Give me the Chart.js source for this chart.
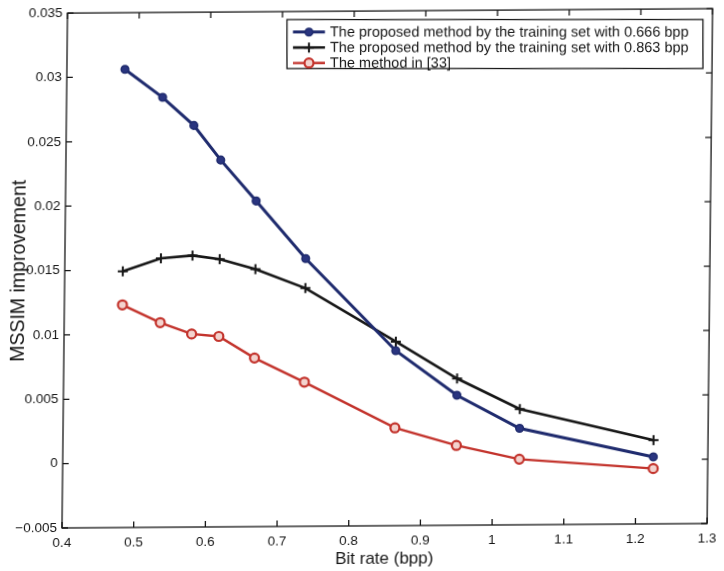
<!DOCTYPE html>
<html>
<head>
<meta charset="utf-8">
<script src="https://cdn.jsdelivr.net/npm/chart.js@4.4.1/dist/chart.umd.min.js"></script>
<style>
  html, body { margin: 0; padding: 0; background: #fff; overflow: hidden; }
  #wrap { width: 724px; height: 571px; position: relative; }
  /* the printed figure sits slightly skewed on the page */
  #chart { transform-origin: 62px 528px; transform: matrix(1, -0.0069, -0.0107, 1, 0, 0); }
</style>
</head>
<body>
<div id="wrap"><canvas id="chart"></canvas></div>
<script>
// Bit rates (bpp) shared by all three curves
const bitRates = [0.481, 0.534, 0.578, 0.616, 0.666, 0.736, 0.863, 0.949, 1.037, 1.224];

// MSSIM improvement per method
const trained0666 = [0.0306, 0.0284, 0.0262, 0.0235, 0.0203, 0.0158, 0.0086, 0.0051, 0.0025, 0.0002];
const trained0863 = [0.0149, 0.0159, 0.0161, 0.0158, 0.0150, 0.0135, 0.0093, 0.0064, 0.0040, 0.0015];
const method33    = [0.0123, 0.0109, 0.0100, 0.0098, 0.0081, 0.0062, 0.0026, 0.0012, 0.0001, -0.0007];

const seriesLabels = [
  'The proposed method by the training set with 0.666 bpp',
  'The proposed method by the training set with 0.863 bpp',
  'The method in [33]'
];

const xTicks = [0.4, 0.5, 0.6, 0.7, 0.8, 0.9, 1.0, 1.1, 1.2, 1.3];
const yTicks = [-0.005, 0, 0.005, 0.01, 0.015, 0.02, 0.025, 0.03, 0.035];

const FONT = '"Liberation Sans", Arial, Helvetica, sans-serif';
const INK = '#161616';

function pts(ys) { return ys.map((y, i) => ({ x: bitRates[i], y: y })); }

function fmt(v) {
  const s = String(Number(v.toFixed(4)));
  return s.replace('-', '\u2212');
}

// box round the axes with inward ticks on all four sides
const framePlugin = {
  id: 'frame',
  afterDatasetsDraw(chart) {
    const { ctx, chartArea: a, scales } = chart;
    ctx.save();
    ctx.strokeStyle = INK;
    ctx.lineWidth = 1.3;
    ctx.strokeRect(a.left, a.top, a.right - a.left, a.bottom - a.top);
    const tl = 6;
    ctx.beginPath();
    xTicks.forEach(v => {
      const x = scales.x.getPixelForValue(v);
      ctx.moveTo(x, a.bottom); ctx.lineTo(x, a.bottom - tl);
      ctx.moveTo(x, a.top); ctx.lineTo(x, a.top + tl);
    });
    yTicks.forEach(v => {
      const y = scales.y.getPixelForValue(v);
      ctx.moveTo(a.left, y); ctx.lineTo(a.left + tl, y);
      ctx.moveTo(a.right, y); ctx.lineTo(a.right - tl, y);
    });
    ctx.stroke();
    ctx.restore();
  }
};

// legend box in the upper right corner; drawn square to the page, not to the axes
const legendPlugin = {
  id: 'boxLegend',
  afterDraw(chart) {
    const { ctx } = chart;
    const bx = 287, by = 19.5, bw = 416, bh = 49;
    ctx.save();
    ctx.translate(62, 528);
    ctx.transform(1, 0.0069, 0.0107, 1, 0, 0);
    ctx.translate(-62, -528);
    ctx.fillStyle = '#fff';
    ctx.fillRect(bx, by, bw, bh);
    ctx.strokeStyle = INK;
    ctx.lineWidth = 1.3;
    ctx.strokeRect(bx, by, bw, bh);
    ctx.font = '14.5px ' + FONT;
    ctx.textBaseline = 'middle';
    chart.data.datasets.forEach((ds, i) => {
      const y = by + 12.5 + i * 15.5;
      const mx = bx + 22;
      ctx.strokeStyle = ds.borderColor;
      ctx.lineWidth = ds.borderWidth;
      ctx.beginPath();
      ctx.moveTo(bx + 6, y); ctx.lineTo(bx + 38, y);
      ctx.stroke();
      ctx.fillStyle = ds.pointBackgroundColor;
      ctx.strokeStyle = ds.pointBorderColor;
      ctx.lineWidth = ds.pointBorderWidth;
      ctx.beginPath();
      const r = ds.pointRadius;
      if (ds.pointStyle === 'circle') {
        ctx.arc(mx, y, r, 0, Math.PI * 2);
        ctx.fill(); ctx.stroke();
      } else {
        ctx.moveTo(mx - r, y); ctx.lineTo(mx + r, y);
        ctx.moveTo(mx, y - r); ctx.lineTo(mx, y + r);
        ctx.stroke();
      }
      ctx.fillStyle = INK;
      ctx.fillText(seriesLabels[i], bx + 43, y + 0.5);
    });
    ctx.restore();
  }
};

const ctx = document.getElementById('chart').getContext('2d');
new Chart(ctx, {
  type: 'line',
  data: {
    datasets: [
      {
        label: seriesLabels[0],
        data: pts(trained0666),
        borderColor: '#1f2b6e',
        borderWidth: 3,
        pointStyle: 'circle',
        pointRadius: 3.8,
        pointBackgroundColor: '#2a3580',
        pointBorderColor: '#1f2b6e',
        pointBorderWidth: 1.5
      },
      {
        label: seriesLabels[1],
        data: pts(trained0863),
        borderColor: '#171717',
        borderWidth: 2.6,
        pointStyle: 'cross',
        pointRadius: 5,
        pointBackgroundColor: '#171717',
        pointBorderColor: '#171717',
        pointBorderWidth: 2
      },
      {
        label: seriesLabels[2],
        data: pts(method33),
        borderColor: '#c3332c',
        borderWidth: 2.4,
        pointStyle: 'circle',
        pointRadius: 4.5,
        pointBackgroundColor: '#f3d3ce',
        pointBorderColor: '#c3332c',
        pointBorderWidth: 2.2
      }
    ]
  },
  options: {
    responsive: true,
    maintainAspectRatio: false,
    animation: false,
    layout: { padding: { left: 0, right: 11.5, top: 11, bottom: 0 } },
    elements: { line: { tension: 0 } },
    plugins: { legend: { display: false }, tooltip: { enabled: false } },
    scales: {
      x: {
        type: 'linear',
        min: 0.4, max: 1.3,
        grid: { display: false, drawTicks: false },
        border: { display: false },
        afterBuildTicks: s => { s.ticks = xTicks.map(v => ({ value: v })); },
        afterFit: s => { s.height = 43; },
        ticks: {
          color: INK, padding: 7.5, maxRotation: 0, autoSkip: false,
          font: { family: FONT, size: 13.5 },
          callback: v => fmt(v)
        },
        title: {
          display: true, text: 'Bit rate (bpp)', color: INK,
          font: { family: FONT, size: 17 }, padding: { top: 0, bottom: -0.5 }
        }
      },
      y: {
        min: -0.005, max: 0.035,
        grid: { display: false, drawTicks: false },
        border: { display: false },
        afterBuildTicks: s => { s.ticks = yTicks.map(v => ({ value: v })); },
        afterFit: s => { s.width = 62; },
        ticks: {
          color: INK, padding: 5, autoSkip: false,
          font: { family: FONT, size: 13.5 },
          callback: v => fmt(v)
        },
        title: {
          display: true, text: 'MSSIM improvement', color: INK,
          font: { family: FONT, size: 19.5 }, padding: { top: 4.5, bottom: 0 }
        }
      }
    }
  },
  plugins: [framePlugin, legendPlugin]
});
</script>
</body>
</html>
